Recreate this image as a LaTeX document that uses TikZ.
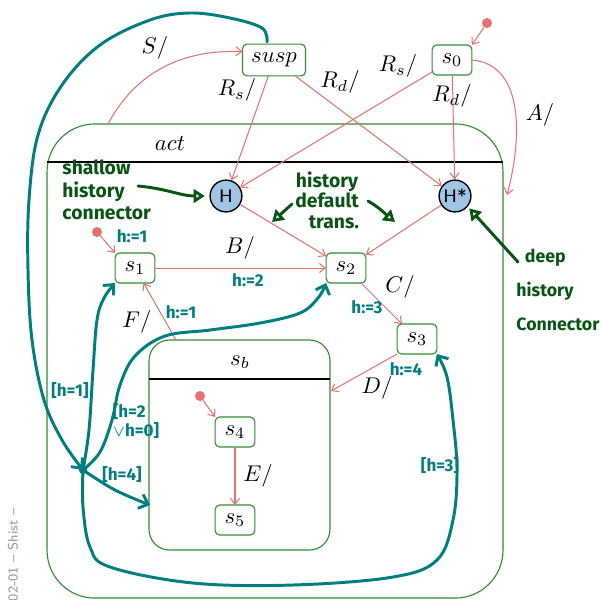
\documentclass[tikz,border=0pt]{standalone}
\usepackage{fontspec}
\usetikzlibrary{arrows.meta}
\newfontfamily\hand{Fira Sans}

\definecolor{stategreen}{RGB}{52,140,52}
\definecolor{transred}{RGB}{230,112,112}
\definecolor{histblue}{RGB}{160,196,230}
\definecolor{inkteal}{RGB}{0,126,126}
\definecolor{inkgreen}{RGB}{8,84,20}
\definecolor{sidegray}{RGB}{150,150,150}

\begin{document}
\begin{tikzpicture}[x=0.44pt,y=-0.44pt,
  state/.style={draw=stategreen, line width=0.5pt, rounded corners=2pt, fill=white,
    minimum width=17.5pt, minimum height=13.2pt, inner sep=1pt, outer sep=0pt},
  compound/.style={draw=stategreen, line width=0.5pt, outer sep=0pt, inner sep=0pt},
  hist/.style={circle, draw=black, line width=0.6pt, fill=histblue, minimum size=14pt,
    inner sep=0pt, font=\sffamily\fontsize{8}{9}\selectfont},
  initdot/.style={circle, fill=transred, inner sep=0pt, minimum size=4.4pt},
  trans/.style={draw=transred, line width=0.45pt, -{Straight Barb[length=2.6pt,width=4pt]}},
  lbl/.style={inner sep=0pt},
  ink/.style={draw=inkteal, line width=1.3pt, line cap=round, line join=round},
  inkarrow/.style={ink, -{Straight Barb[length=3.5pt,width=6.5pt]}},
  inklabel/.style={text=inkteal, inner sep=0pt, font=\hand\bfseries\fontsize{7.5}{8}\selectfont},
  note/.style={text=inkgreen, inner sep=0pt, font=\hand\bfseries\fontsize{8.5}{9}\selectfont},
  notearrow/.style={draw=inkgreen, line width=1.3pt, line cap=round,
    -{Triangle[open, length=5pt, width=6pt]}}
]
\useasboundingbox (0,0) rectangle (601,599);

% side footer
\node[rotate=90, anchor=east, text=sidegray, inner sep=0pt,
  font=\sffamily\fontsize{6}{7}\selectfont] at (13,508) {02-01 -- Shist --};

% compound states
\node[compound, rounded corners=21pt, minimum width=200.6pt, minimum height=208.6pt] (act) at (275,361) {};
\draw[line width=0.9pt] (act.west |- 0,162) -- (act.east |- 0,162);
\node[lbl] (actlbl) at (170,143) {$act$};

\node[compound, rounded corners=9pt, minimum width=79.6pt, minimum height=92.4pt] (sb) at (239.5,445) {};
\draw[line width=0.9pt] (sb.west |- 0,379) -- (sb.east |- 0,379);
\node[lbl] (sblbl) at (240,362) {$s_b$};

% simple states
\node[state, minimum width=27.7pt, minimum height=14pt] (susp) at (274,60) {$susp$};
\node[state] (s0) at (452,60) {$s_0$};
\node[state] (s1) at (135,268) {$s_1$};
\node[state] (s2) at (346,268) {$s_2$};
\node[state] (s3) at (417,339) {$s_3$};
\node[state] (s4) at (235,432) {$s_4$};
\node[state] (s5) at (235,520) {$s_5$};

% history connectors
\node[hist] (H) at (226,196) {H};
\node[hist] (Hd) at (455,196) {H*};

% initial pseudo states
\node[initdot] (i0) at (487,23) {};
\node[initdot] (iact) at (97,232) {};
\node[initdot] (isb) at (200,396) {};

% attachment points on compound borders
\coordinate (actS) at (108,124);
\coordinate (actA) at (507,195);
\coordinate (sbD) at (331,391);
\coordinate (sbF) at (176,340);

% transitions
\draw[trans] (i0) -- (s0.north east);
\draw[trans] (iact) -- (s1.north west);
\draw[trans] (isb) -- (s4.north west);
\draw[trans] (actS) to[out=62, in=178] (susp.165);
\draw[trans] (susp) -- (H);
\draw[trans] (susp) -- (Hd);
\draw[trans] (s0) -- (H);
\draw[trans] (s0) -- (Hd);
\draw[trans] (s0.east) to[out=-5, in=75] (actA);
\draw[trans] (H) -- (s2);
\draw[trans] (Hd) -- (s2);
\draw[trans] (s1) -- (s2);
\draw[trans] (s2) -- (s3);
\draw[trans] (s3.south west) -- (sbD);
\draw[trans] (sbF) -- (s1);
\draw[trans] (s4) -- (s5);

% transition labels
\node[lbl] at (155,48) {$S/$};
\node[lbl] at (237,90) {$R_s/$};
\node[lbl] at (340,82) {$R_d/$};
\node[lbl] at (398,66) {$R_s/$};
\node[lbl] at (452,96) {$R_d/$};
\node[lbl] at (540,115) {$A/$};
\node[lbl] at (240,248) {$B/$};
\node[lbl] at (400,287) {$C/$};
\node[lbl] at (377,388) {$D/$};
\node[lbl] at (137,322) {$F/$};
\node[lbl] at (258,476) {$E/$};

% handwritten notes
\node[note, align=left, anchor=west] (nshallow) at (62,190) {shallow\\[1pt]history\\[1pt]connector};
\coordinate (nshallowA) at (138,186);
\draw[notearrow, shorten >=2pt] (nshallowA) to[out=-5, in=180] (H.west);

\node[note, align=center] (ndefault) at (327,200) {history\\default\\\ \ \ trans.};
\coordinate (ndefA1) at (292,204);
\coordinate (ndefE1) at (272,222);
\coordinate (ndefA2) at (368,201);
\coordinate (ndefE2) at (395,222);
\draw[notearrow] (ndefA1) -- (ndefE1);
\draw[notearrow] (ndefA2) to[out=-30, in=140] (ndefE2);

\node[note, align=left, anchor=west, font=\hand\bfseries\fontsize{7.8}{15}\selectfont]
  (ndeep) at (516,290) {\ \ deep\\history\\Connector};
\coordinate (ndeepA) at (518,262);
\draw[notearrow, shorten >=1pt] (ndeepA) -- (Hd.-40);

% history variable annotations
\node[inklabel] at (132,236) {h:=1};
\node[inklabel] at (248,280) {h:=2};
\node[inklabel] at (181,312) {h:=1};
\node[inklabel] at (367,307) {h:=3};
\node[inklabel] at (406,369) {h:=4};
\node[inklabel] at (70,391) {[h=1]};
\node[inklabel, align=left] at (136,421) {[h=2\\$\vee$h=0]};
\node[inklabel] at (122,475) {[h=4]};
\node[inklabel] at (440,466) {[h=3]};

% dispatch junction
\coordinate (J) at (83,470);
\coordinate (suspTop) at (267,42);
\coordinate (sbW) at (150,505);

\draw[inkarrow] plot[smooth, tension=0.6] coordinates {(suspTop) (262,28) (230,18) (190,13)
  (150,20) (100,45) (62,85) (38,135) (29,200) (28,270) (32,340) (44,400) (62,440) (J)};
\draw[inkarrow] plot[smooth, tension=0.6] coordinates {(J) (89,430) (93,370) (97,320)
  (104,298) (s1.south west)};
\draw[inkarrow] plot[smooth, tension=0.6] coordinates {(J) (100,452) (112,420) (120,385)
  (135,356) (165,336) (210,330) (260,323) (300,313) (318,298) (s2.south west)};
\draw[inkarrow] plot[smooth, tension=0.6] coordinates {(J) (115,490) (sbW)};
\draw[inkarrow] plot[smooth, tension=0.6] coordinates {(J) (83,507) (90,547) (110,567)
  (193,583) (293,585) (393,577) (437,560) (453,520) (457,470) (453,420) (447,377) (s3.south east)};
\fill[inkteal] (J) circle (1.8pt);
\end{tikzpicture}
\end{document}
